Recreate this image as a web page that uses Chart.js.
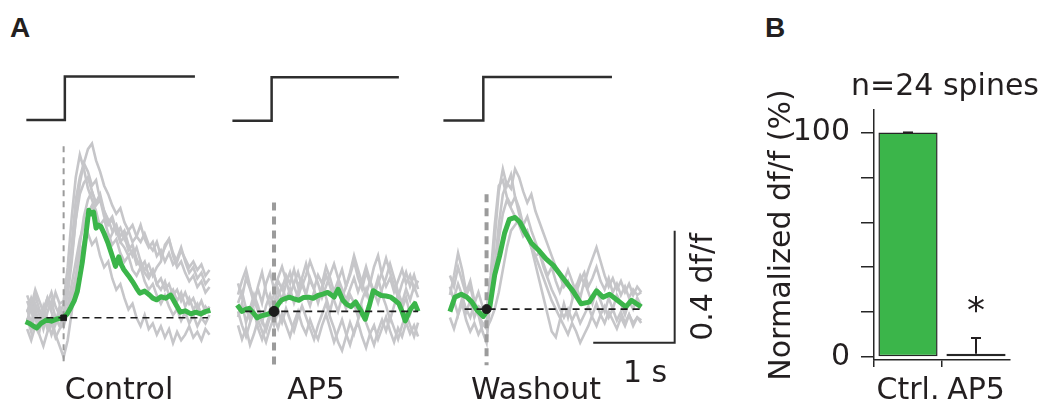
<!DOCTYPE html>
<html>
<head>
<meta charset="utf-8">
<script src="https://cdn.jsdelivr.net/npm/chart.js@4.4.1/dist/chart.umd.min.js"></script>
<style>
  body { margin: 0; width: 1042px; height: 415px; position: relative; overflow: hidden; background: #fff;
         font-family: 'DejaVu Sans', sans-serif; color: #231f20; }
  canvas { position: absolute; }
  .lbl { position: absolute; font-size: 30px; line-height: 1; white-space: nowrap; }
  .mid { transform: translateX(-50%); }
  .panel { font-family: 'Liberation Sans', Arial, sans-serif; font-weight: bold; font-size: 28px; }
</style>
</head>
<body>
<div class="lbl panel" style="left:10px; top:14px;">A</div>
<div class="lbl panel" style="left:765px; top:14px;">B</div>

<canvas id="ctrlChart" width="215" height="325"></canvas>
<canvas id="ap5Chart" width="205" height="325"></canvas>
<canvas id="washChart" width="262" height="325"></canvas>
<canvas id="barChart" width="297" height="365" style="left:745px; top:50px;"></canvas>

<div class="lbl mid" style="left:119px; top:374px;">Control</div>
<div class="lbl mid" style="left:316px; top:374px;">AP5</div>
<div class="lbl mid" style="left:536px; top:374px;">Washout</div>
<div class="lbl" style="left:623px; top:357px;">1 s</div>
<div class="lbl" style="left:702px; top:287px; transform: translate(-50%, -50%) rotate(-90deg);">0.4 df/f</div>
<div class="lbl mid" style="left:945px; top:70px;">n=24 spines</div>

<script>
/* eslint-disable no-undef */
Chart.defaults.font.family = "'DejaVu Sans', sans-serif";
Chart.defaults.color = '#231f20';
Chart.defaults.animation = false;

// ---------- panel A data (time in s from uncaging onset, df/f) ----------
const ctrlTimes = sampleTimes(-0.45, 0.05, 46);
const ctrlGray = [
  [0.03, -0.02, 0.05, 0.01, -0.04, 0.02, 0.06, 0.0, -0.03,
   0.02, 0.08, 0.2, 0.35, 0.48, 0.55, 0.6, 0.62, 0.56, 0.52, 0.47, 0.44, 0.4, 0.37, 0.39, 0.34, 0.31, 0.33, 0.29, 0.27, 0.3,
   0.26, 0.24, 0.27, 0.22, 0.25, 0.28, 0.23, 0.2, 0.24, 0.21, 0.18, 0.2, 0.17, 0.19, 0.15, 0.17],
  [-0.01, 0.04, 0.0, -0.05, 0.03, 0.07, 0.02, -0.02, 0.04,
   0.0, 0.1, 0.26, 0.42, 0.5, 0.55, 0.52, 0.47, 0.49, 0.42, 0.38, 0.35, 0.31, 0.33, 0.27, 0.25, 0.22, 0.24, 0.19, 0.2, 0.16,
   0.14, 0.17, 0.12, 0.1, 0.13, 0.08, 0.1, 0.06, 0.09, 0.04, 0.07, 0.03, 0.05, 0.01, 0.04, 0.02],
  [0.06, 0.02, 0.08, 0.03, 0.0, 0.05, 0.09, 0.04, 0.01,
   0.05, 0.12, 0.22, 0.35, 0.44, 0.48, 0.5, 0.45, 0.4, 0.42, 0.36, 0.33, 0.35, 0.3, 0.32, 0.28, 0.31, 0.27, 0.29, 0.33, 0.28,
   0.25, 0.27, 0.22, 0.24, 0.2, 0.23, 0.19, 0.21, 0.25, 0.2, 0.16, 0.18, 0.14, 0.16, 0.12, 0.14],
  [-0.04, -0.08, -0.03, -0.06, -0.1, -0.05, -0.02, -0.07, -0.04,
   -0.02, 0.04, 0.12, 0.2, 0.28, 0.33, 0.37, 0.4, 0.36, 0.33, 0.35, 0.3, 0.26, 0.28, 0.23, 0.2, 0.22, 0.17, 0.15, 0.18, 0.13,
   0.1, 0.12, 0.08, 0.05, 0.08, 0.04, 0.01, 0.03, -0.01, 0.02, -0.02, 0.01, -0.03, 0.0, -0.02, 0.01],
  [0.0, -0.05, 0.02, -0.03, 0.04, -0.01, -0.06, -0.02, 0.01,
   -0.03, 0.02, 0.08, 0.15, 0.22, 0.27, 0.3, 0.26, 0.28, 0.22, 0.18, 0.2, 0.14, 0.1, 0.12, 0.07, 0.03, 0.05, 0.0, -0.03, 0.01,
   -0.04, -0.02, -0.06, -0.03, -0.07, -0.04, -0.09, -0.05, -0.08, -0.06, -0.03, -0.07, -0.05, -0.08, -0.04, -0.06],
  [0.02, 0.07, 0.03, -0.02, 0.01, -0.04, 0.0, -0.06, -0.1,
   -0.14, -0.08, 0.02, 0.14, 0.26, 0.36, 0.42, 0.45, 0.41, 0.44, 0.38, 0.34, 0.36, 0.31, 0.27, 0.29, 0.24, 0.26, 0.21, 0.18, 0.2,
   0.15, 0.17, 0.12, 0.14, 0.1, 0.12, 0.08, 0.1, 0.06, 0.09, 0.05, 0.07, 0.03, 0.06, 0.02, 0.04],
  [0.08, 0.04, 0.1, 0.06, 0.02, 0.07, 0.03, 0.09, 0.05,
   0.06, 0.18, 0.36, 0.5, 0.58, 0.53, 0.46, 0.42, 0.38, 0.32, 0.3, 0.27, 0.3, 0.33, 0.29, 0.31, 0.26, 0.22, 0.25, 0.2, 0.17,
   0.19, 0.15, 0.18, 0.2, 0.26, 0.28, 0.22, 0.18, 0.2, 0.16, 0.13, 0.15, 0.11, 0.13, 0.09, 0.11],
];
const ctrlGreenT = [-0.47, -0.42, -0.37, -0.33, -0.28, -0.21, -0.15, -0.08, -0.01, 0.04, 0.08, 0.13, 0.17, 0.23, 0.29, 0.31,
  0.34, 0.37, 0.4, 0.43, 0.46, 0.5, 0.55, 0.6, 0.64, 0.68, 0.71, 0.74, 0.8, 0.85, 0.9, 0.94, 1.0, 1.06, 1.1, 1.15, 1.2,
  1.26, 1.32, 1.38, 1.44, 1.5, 1.57, 1.63, 1.69, 1.75, 1.81];
const ctrlGreenY = [-0.014, -0.02, -0.03, -0.036, -0.02, -0.007, -0.012, -0.004, 0, 0.012, 0.032, 0.06, 0.095, 0.197, 0.332,
  0.383, 0.37, 0.376, 0.319, 0.33, 0.325, 0.3, 0.264, 0.22, 0.183, 0.217, 0.19, 0.173, 0.15, 0.129, 0.105, 0.088, 0.095,
  0.081, 0.07, 0.064, 0.075, 0.07, 0.081, 0.05, 0.02, 0.025, 0.014, 0.02, 0.014, 0.022, 0.027];

const ap5Times = sampleTimes(-0.45, 0.05, 46);
const ap5Gray = [
  [0.1, 0.05, 0.12, 0.08, 0.03, 0.09, 0.14, 0.07, 0.02, 0.06, 0.11, 0.08, 0.13, 0.1, 0.15, 0.09, 0.12, 0.17, 0.11, 0.08,
   0.13, 0.1, 0.16, 0.12, 0.07, 0.11, 0.15, 0.09, 0.13, 0.18, 0.12, 0.08, 0.14, 0.1, 0.16, 0.2, 0.13, 0.09, 0.12, 0.07,
   0.11, 0.15, 0.1, 0.13, 0.08, 0.11],
  [-0.05, -0.1, -0.06, -0.12, -0.08, -0.03, -0.07, -0.11, -0.06, -0.02, -0.06, -0.01, -0.05, -0.09, -0.04, 0.0, -0.05, -0.08,
   -0.03, -0.07, -0.1, -0.05, -0.01, -0.06, -0.11, -0.07, -0.03, -0.08, -0.12, -0.07, -0.04, -0.09, -0.13, -0.08, -0.05,
   -0.1, -0.06, -0.02, -0.07, -0.11, -0.06, -0.09, -0.04, -0.08, -0.05, -0.09],
  [0.03, 0.07, 0.01, -0.03, 0.04, 0.0, -0.04, 0.02, 0.06, 0.01, 0.05, 0.09, 0.04, 0.08, 0.03, 0.07, 0.11, 0.06, 0.02, 0.07,
   0.04, 0.09, 0.05, 0.0, 0.06, 0.1, 0.05, 0.01, 0.06, 0.03, -0.02, 0.04, 0.08, 0.03, 0.07, 0.12, 0.06, 0.02, -0.03, 0.02,
   0.06, 0.01, 0.05, -0.01, 0.03, 0.0],
  [-0.02, 0.03, -0.04, 0.01, 0.06, 0.02, -0.03, -0.07, -0.02, 0.03, 0.08, 0.04, 0.1, 0.14, 0.09, 0.05, 0.1, 0.06, 0.12, 0.08,
   0.03, 0.08, 0.13, 0.09, 0.04, 0.0, 0.05, 0.09, 0.14, 0.2, 0.15, 0.1, 0.06, 0.11, 0.07, 0.03, 0.08, 0.12, 0.17, 0.12,
   0.07, 0.03, 0.08, 0.04, 0.09, 0.05],
  [0.0, -0.05, -0.09, -0.04, 0.0, -0.06, -0.1, -0.05, -0.01, -0.05, 0.0, -0.04, 0.01, -0.03, -0.07, -0.02, 0.02, -0.02, -0.06,
   -0.1, -0.05, -0.01, 0.03, -0.02, -0.06, -0.11, -0.14, -0.09, -0.04, -0.08, -0.03, 0.01, -0.04, -0.08, -0.12, -0.07,
   -0.03, -0.07, -0.02, -0.06, -0.1, -0.05, -0.01, -0.05, -0.09, -0.04],
  [0.06, 0.11, 0.15, 0.09, 0.04, 0.08, 0.03, 0.1, 0.14, 0.08, 0.12, 0.16, 0.11, 0.06, 0.1, 0.14, 0.09, 0.13, 0.18, 0.14,
   0.1, 0.05, 0.09, 0.13, 0.17, 0.12, 0.08, 0.04, 0.08, 0.12, 0.07, 0.11, 0.16, 0.11, 0.06, 0.1, 0.14, 0.19, 0.14, 0.09,
   0.05, 0.1, 0.14, 0.09, 0.13, 0.08],
];
const ap5GreenT = [-0.46, -0.4, -0.35, -0.31, -0.26, -0.21, -0.15, -0.09, -0.04, 0, 0.05, 0.09, 0.14, 0.19, 0.25, 0.31,
  0.37, 0.43, 0.49, 0.55, 0.61, 0.67, 0.71, 0.75, 0.8, 0.86, 0.91, 0.96, 1.02, 1.08, 1.14, 1.19, 1.24, 1.29, 1.34, 1.4,
  1.46, 1.51, 1.56, 1.6, 1.64, 1.7, 1.76, 1.8];
const ap5GreenY = [0.023, 0, 0.008, 0.011, -0.005, -0.023, -0.015, -0.011, -0.006, 0, 0.025, 0.04, 0.046, 0.051, 0.045,
  0.04, 0.05, 0.051, 0.047, 0.057, 0.062, 0.068, 0.06, 0.051, 0.079, 0.04, 0.025, 0.017, 0.034, 0.005, -0.028, 0.02,
  0.074, 0.065, 0.057, 0.055, 0.051, 0.04, 0.028, 0.0, -0.034, 0.006, 0.028, 0];

const washTimes = sampleTimes(-0.45, 0.05, 48);
const washGray = [
  [0.05, 0.12, 0.2, 0.14, 0.06, 0.1, 0.03, -0.02, -0.08,
   -0.12, 0.05, 0.25, 0.42, 0.5, 0.44, 0.48, 0.4, 0.36, 0.3, 0.27, 0.22, 0.16, 0.1, 0.04, -0.02, -0.08, -0.1, -0.04, 0.02,
   -0.03, 0.03, 0.08, 0.04, 0.1, 0.06, 0.02, 0.07, 0.03, -0.01, 0.04, 0.0, 0.05, 0.02, -0.02, 0.03, 0.0, 0.04, 0.01],
  [0.0, 0.04, 0.09, 0.05, -0.01, 0.03, -0.03, 0.01, 0.0,
   -0.02, 0.04, 0.15, 0.3, 0.41, 0.45, 0.43, 0.5, 0.47, 0.42, 0.38, 0.41, 0.35, 0.31, 0.27, 0.23, 0.19, 0.15, 0.12, 0.08,
   0.1, 0.05, 0.08, 0.12, 0.09, 0.14, 0.18, 0.22, 0.17, 0.12, 0.08, 0.11, 0.07, 0.1, 0.06, 0.09, 0.05, 0.08, 0.06],
  [-0.03, -0.07, -0.02, 0.02, -0.04, -0.08, -0.05, -0.09, -0.06,
   -0.04, 0.02, 0.12, 0.25, 0.34, 0.39, 0.36, 0.33, 0.3, 0.26, 0.28, 0.23, 0.19, 0.2, 0.15, 0.11, 0.07, 0.04, 0.0, -0.03,
   0.0, -0.04, -0.01, -0.05, -0.02, 0.01, -0.03, -0.06, -0.02, -0.05, -0.01, -0.04, -0.07, -0.03, -0.06, -0.02, -0.05, -0.03, -0.05],
  [0.08, 0.03, -0.02, 0.04, 0.0, -0.03, 0.02, -0.02, -0.05,
   -0.07, -0.04, 0.0, 0.06, 0.14, 0.22, 0.28, 0.3, 0.32, 0.29, 0.26, 0.22, 0.19, 0.15, 0.11, 0.07, 0.03, 0.0, -0.03, -0.06,
   -0.09, -0.05, -0.08, -0.12, -0.09, -0.06, -0.02, 0.02, -0.02, 0.01, -0.03, 0.0, -0.04, -0.01, -0.05, -0.02, -0.06, -0.03, -0.04],
  [0.12, 0.08, 0.15, 0.1, 0.05, 0.08, 0.02, 0.06, 0.01,
   0.0, 0.12, 0.3, 0.44, 0.46, 0.4, 0.37, 0.4, 0.34, 0.3, 0.33, 0.28, 0.24, 0.2, 0.16, 0.12, 0.15, 0.1, 0.06, 0.1,
   0.14, 0.1, 0.06, 0.1, 0.13, 0.08, 0.11, 0.15, 0.1, 0.07, 0.11, 0.06, 0.09, 0.05, 0.08, 0.04, 0.07, 0.05, 0.06],
];
const washGreenT = [-0.45, -0.39, -0.31, -0.24, -0.18, -0.12, -0.04, 0.04, 0.1, 0.16, 0.22, 0.28, 0.35, 0.41, 0.47, 0.55,
  0.63, 0.73, 0.82, 0.94, 1.06, 1.16, 1.26, 1.35, 1.43, 1.51, 1.61, 1.71, 1.78, 1.9];
const washGreenY = [-0.009, 0.042, 0.053, 0.042, 0.025, -0.003, -0.026, 0.008, 0.122, 0.19, 0.27, 0.32, 0.327, 0.31,
  0.276, 0.236, 0.213, 0.179, 0.156, 0.11, 0.065, 0.019, 0.025, 0.065, 0.042, 0.053, 0.031, 0.008, 0.031, 0.008];

// uncaging step: start, onset, end (s)
const stepStart = [-0.46, -0.52, -0.53];
const stepOn = [0.015, -0.03, -0.04];
const stepEnd = [1.62, 1.56, 1.54];
// dashed onset marker extent (df/f) and dashed baseline extent (s)
const onsetTop = [0.61, 0.39, 0.41];
const onsetBottom = [-0.17, -0.19, -0.2];
const baseStart = [-0.36, -0.36, -0.27];
const baseEnd = [1.78, 1.8, 1.9];
// scale bar
const scaleBarS = 1;
const scaleBarDf = 0.4;
const scaleBarStart = 1.31; // s
const scaleBarLevel = -0.12; // df/f

// ---------- panel B data ----------
const barLabels = ['Ctrl.', 'AP5'];
const barValues = [100, 1.5];
const barErrors = [0, 7];
const barStars = ['', '*'];
const yTicks = [0, 20, 40, 60, 80, 100];

function sampleTimes(start, step, n) {
  const t = [];
  for (let i = 0; i < n; i++) t.push(Math.round((start + i * step) * 100) / 100);
  return t;
}

function pairs(xs, ys) {
  return xs.map((x, i) => ({ x, y: ys[i] }));
}

// pixel layout of the three trace panels
const PX_PER_S = 85;
const PX_PER_DF = 290;
const STEP_PX = 45;
const STEP_LOW_Y = 117;
const panels = [
  { id: 'ctrlChart', left: 10, width: 215, stimX: 61, baseY: 321, times: ctrlTimes, gray: ctrlGray,
    greenT: ctrlGreenT, greenY: ctrlGreenY, onsetWidth: 2, onsetDash: [6, 5], dot: 'rect', dotR: 4 },
  { id: 'ap5Chart', left: 225, width: 205, stimX: 270.7, baseY: 315, times: ap5Times, gray: ap5Gray,
    greenT: ap5GreenT, greenY: ap5GreenY, onsetWidth: 4, onsetDash: [8, 6], dot: 'circle', dotR: 5 },
  { id: 'washChart', left: 430, width: 262, stimX: 483.3, baseY: 312.3, times: washTimes, gray: washGray,
    greenT: washGreenT, greenY: washGreenY, onsetWidth: 4, onsetDash: [8, 6], dot: 'circle', dotR: 4.5, scaleBar: true },
];
const TOP = 55;
const HEIGHT = 325;

function traceChart(p, k) {
  const canvas = document.getElementById(p.id);
  canvas.style.left = p.left + 'px';
  canvas.style.top = TOP + 'px';

  const datasets = [];
  // stimulus step
  datasets.push({
    data: [{ x: stepStart[k], y: 0 }, { x: stepOn[k], y: 0 }, { x: stepOn[k], y: 1 }, { x: stepEnd[k], y: 1 }],
    yAxisID: 'ys', borderColor: '#2e2e2e', borderWidth: 2.5, order: 6,
  });
  // single trials
  p.gray.forEach((trace) => {
    datasets.push({ data: pairs(p.times, trace), borderColor: '#c6c6c9', borderWidth: 2.6, order: 5 });
  });
  // onset marker
  datasets.push({
    data: [{ x: 0, y: onsetTop[k] }, { x: 0, y: onsetBottom[k] }],
    borderColor: '#9b9b9b', borderWidth: p.onsetWidth, borderDash: p.onsetDash, borderCapStyle: 'butt', order: 4,
  });
  // average
  datasets.push({
    data: pairs(p.greenT, p.greenY), borderColor: '#3bb54a', borderWidth: 5, borderJoinStyle: 'round', order: 3,
  });
  // baseline
  datasets.push({
    data: [{ x: baseStart[k], y: 0 }, { x: baseEnd[k], y: 0 }],
    borderColor: '#1c1c1c', borderWidth: 1.6, borderDash: [7, 5], order: 2,
  });
  if (p.scaleBar) {
    datasets.push({
      data: [
        { x: scaleBarStart, y: scaleBarLevel },
        { x: scaleBarStart + scaleBarS, y: scaleBarLevel },
        { x: scaleBarStart + scaleBarS, y: scaleBarLevel + scaleBarDf },
      ],
      borderColor: '#2b2b2b', borderWidth: 2, borderJoinStyle: 'miter', order: 1,
    });
  }
  // onset point
  datasets.push({
    data: [{ x: 0, y: 0 }], showLine: false, pointRadius: p.dotR, pointStyle: p.dot,
    pointBackgroundColor: '#1c1c1c', pointBorderColor: '#1c1c1c', order: 0,
  });

  new Chart(canvas, {
    type: 'line',
    data: { datasets },
    options: {
      responsive: false,
      layout: { padding: 0 },
      elements: { point: { radius: 0 }, line: { tension: 0, fill: false } },
      scales: {
        x: { type: 'linear', display: false,
             min: (p.left - p.stimX) / PX_PER_S, max: (p.left + p.width - p.stimX) / PX_PER_S },
        y: { display: false, min: (p.baseY - TOP - HEIGHT) / PX_PER_DF, max: (p.baseY - TOP) / PX_PER_DF },
        ys: { display: false, min: (STEP_LOW_Y - TOP - HEIGHT) / STEP_PX, max: (STEP_LOW_Y - TOP) / STEP_PX },
      },
      plugins: { legend: { display: false }, tooltip: { enabled: false } },
    },
  });
}
panels.forEach(traceChart);

// ---------- panel B ----------
const errorBars = {
  id: 'errorBars',
  afterDatasetsDraw(chart) {
    const { ctx } = chart;
    const y = chart.scales.y;
    const meta = chart.getDatasetMeta(0);
    ctx.save();
    ctx.strokeStyle = '#231f20';
    ctx.fillStyle = '#231f20';
    ctx.lineWidth = 2;
    meta.data.forEach((bar, i) => {
      const top = y.getPixelForValue(barValues[i] + barErrors[i]);
      ctx.beginPath();
      ctx.moveTo(bar.x, bar.y);
      ctx.lineTo(bar.x, top);
      ctx.moveTo(bar.x - 5, top);
      ctx.lineTo(bar.x + 5, top);
      ctx.stroke();
      if (barStars[i]) {
        ctx.font = "36px 'DejaVu Sans'";
        ctx.textAlign = 'center';
        ctx.textBaseline = 'alphabetic';
        ctx.fillText(barStars[i], bar.x, top - 16);
      }
    });
    ctx.restore();
  },
};

new Chart(document.getElementById('barChart'), {
  type: 'bar',
  data: {
    labels: barLabels,
    datasets: [
      {
        data: barValues,
        backgroundColor: ['#3bb54a', '#1f3321'],
        borderColor: '#262626',
        borderWidth: 1.5,
        borderSkipped: false,
        barPercentage: 0.87,
        categoryPercentage: 1,
      },
    ],
  },
  options: {
    responsive: false,
    layout: { padding: { right: 32, left: 0, top: 60, bottom: 0 } },
    plugins: {
      legend: { display: false },
      tooltip: { enabled: false },
    },
    scales: {
      x: {
        afterFit: (scale) => {
          scale.height = 55;
        },
        grid: {
          offset: true,
          drawOnChartArea: false,
          tickLength: 7,
          lineWidth: 1.5,
          color: (c) => (c.index < 2 ? '#262626' : 'rgba(0,0,0,0)'),
        },
        border: { display: true, color: '#262626', width: 1.5 },
        ticks: { font: { size: 30 }, padding: 6, color: '#231f20', maxRotation: 0, minRotation: 0, autoSkip: false },
      },
      y: {
        min: -1.3,
        max: 110,
        afterFit: (scale) => {
          scale.width = 129;
        },
        afterBuildTicks: (scale) => {
          scale.ticks = yTicks.map((v) => ({ value: v }));
        },
        ticks: {
          font: { size: 30 },
          padding: 11,
          color: '#231f20',
          callback: (value) => (value === 0 || value === 100 ? value : ''),
        },
        grid: { drawOnChartArea: false, tickLength: 13, lineWidth: 1.5, color: '#262626' },
        border: { display: true, color: '#262626', width: 1.5 },
        title: {
          display: true,
          text: 'Normalized df/f (%)',
          color: '#231f20',
          font: { size: 30 },
          padding: { top: 19, bottom: 0 },
        },
      },
    },
  },
  plugins: [errorBars],
});
</script>
</body>
</html>
